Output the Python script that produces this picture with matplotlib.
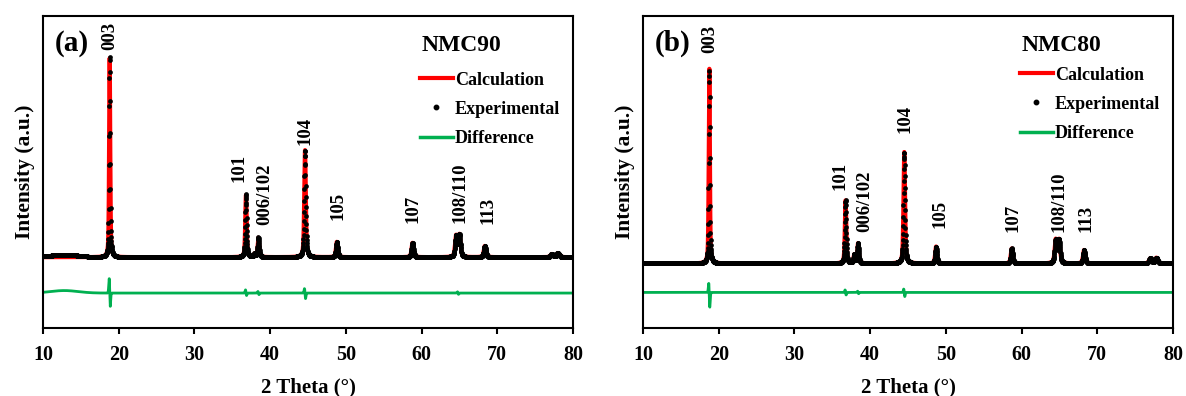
import matplotlib.pyplot as plt
from matplotlib.lines import Line2D
import numpy as np

plt.rcParams['font.family'] = ['Liberation Serif', 'DejaVu Serif']
plt.rcParams['font.weight'] = 'bold'
plt.rcParams['axes.labelweight'] = 'bold'

# Reflections used in the refinement: 2theta, height above background, FWHM
fwhm = [0.17, 0.22, 0.24, 0.24, 0.24, 0.27, 0.30, 0.32, 0.32, 0.32, 0.40, 0.40]

pos_a = [18.8, 36.8, 37.95, 38.45, 44.6, 48.8, 58.8, 64.55, 65.0, 68.35, 77.2, 78.0]
height_a = [63.8, 19.9, 1.0, 6.2, 34.3, 4.9, 4.6, 6.8, 7.1, 3.6, 1.0, 1.3]
bg_a = 22.7

pos_b = [18.75, 36.75, 37.9, 38.4, 44.5, 48.7, 58.7, 64.5, 64.95, 68.25, 77.0, 77.8]
height_b = [63.1, 20.3, 2.7, 6.4, 35.7, 5.4, 4.8, 7.5, 7.5, 4.3, 1.6, 1.8]
bg_b = 20.7

# Misfit (obs - calc) around the strongest reflections: centre, derivative part, peak part
resid_pos_a = [18.8, 36.8, 38.45, 44.6, 64.8]
resid_deriv_a = [4.5, 0.9, 0.5, 1.6, 0.4]
resid_peak_a = [0.3, 0.2, 0.0, -0.3, 0.0]
# broad amorphous hump at low angle, only in the measured data
hump_a = (12.8, 0.8, 1.8)
diff_level_a = 11.2

resid_pos_b = [18.75, 36.75, 38.4, 44.5]
resid_deriv_b = [3.8, 0.8, 0.4, 1.2]
resid_peak_b = [-1.5, 0.0, 0.0, -0.2]
hump_b = (12.8, 0.0, 1.8)
diff_level_b = 11.4

# Miller index labels: text, x, bottom of the text
labels = ['003', '101', '006/102', '104', '105', '107', '108/110', '113']
lab_x_a = [18.85, 35.9, 39.3, 44.6, 49.0, 58.9, 65.05, 68.8]
lab_y_a = [89.1, 46.8, 33.0, 58.7, 34.6, 33.6, 33.6, 33.3]
lab_x_b = [18.85, 36.0, 39.3, 44.6, 49.2, 58.8, 64.9, 68.5]
lab_y_b = [88.1, 44.2, 30.9, 62.5, 32.0, 30.9, 30.9, 30.7]

tt = np.arange(10, 80.001, 0.02)


def pseudo_voigt(x, c, h, w, eta=0.5):
    g = np.exp(-4 * np.log(2) * (x - c) ** 2 / w ** 2)
    l = 1 / (1 + 4 * (x - c) ** 2 / w ** 2)
    return h * (eta * l + (1 - eta) * g)


def profile(pos, height, bg):
    y = np.full_like(tt, bg)
    for c, h, w in zip(pos, height, fwhm):
        y += pseudo_voigt(tt, c, h, w)
    return y


def misfit(rpos, rder, rpk, hump, s=0.07):
    d = np.zeros_like(tt)
    for c, a, b in zip(rpos, rder, rpk):
        u = (tt - c) / s
        d += -a * u * np.exp(0.5 - u ** 2 / 2) + b * np.exp(-u ** 2 / 2)
    c, a, w = hump
    d += a * np.exp(-(tt - c) ** 2 / (2 * w ** 2))
    return d


fig = plt.figure(figsize=(11.86, 3.96), dpi=100)
ax_a = fig.add_axes([0.0363, 0.1717, 0.4469, 0.788])
ax_b = fig.add_axes([0.5422, 0.1717, 0.4469, 0.788])

panels = [
    (ax_a, '(a)', 'NMC90', pos_a, height_a, bg_a,
     (resid_pos_a, resid_deriv_a, resid_peak_a, hump_a), diff_level_a, lab_x_a, lab_y_a, 0.822),
    (ax_b, '(b)', 'NMC80', pos_b, height_b, bg_b,
     (resid_pos_b, resid_deriv_b, resid_peak_b, hump_b), diff_level_b, lab_x_b, lab_y_b, 0.838),
]

red = '#ff0000'
green = '#00b050'

for ax, tag, name, pos, height, bg, res, level, lx, ly, leg_y in panels:
    calc = profile(pos, height, bg)
    diff = misfit(*res)
    obs = calc + diff

    ax.plot(tt, calc, color=red, lw=3, zorder=2)
    ax.plot(tt, obs, ls='none', marker='o', ms=3.4, mec='none', color='black', zorder=3)
    ax.plot(tt, level + diff, color=green, lw=2, zorder=2)

    for txt, x, y in zip(labels, lx, ly):
        ax.text(x, y, txt, rotation=90, ha='center', va='bottom', fontsize=13.5)

    ax.text(0.022, 0.913, tag, transform=ax.transAxes, fontsize=21, va='center', ha='left')
    ax.text(0.715, 0.905, name, transform=ax.transAxes, fontsize=17, va='center', ha='left')

    handles = [Line2D([], [], color=red, lw=3),
               Line2D([], [], ls='none', marker='o', ms=3.2, color='black'),
               Line2D([], [], color=green, lw=2.5)]
    ax.legend(handles, ['Calculation', 'Experimental', 'Difference'],
              loc='upper left', bbox_to_anchor=(0.711, leg_y), frameon=False,
              fontsize=13, handlelength=1.83, handletextpad=0.1,
              labelspacing=0.68, borderpad=0, borderaxespad=0)

    ax.set_xlim(10, 80)
    ax.set_ylim(0, 100)
    ax.set_xticks(range(10, 81, 10))
    ax.set_yticks([])
    ax.tick_params(axis='x', direction='out', length=4, width=1.5, labelsize=14.5, pad=8)
    for sp in ax.spines.values():
        sp.set_linewidth(1.5)
    ax.set_xlabel('2 Theta (°)', fontsize=15, labelpad=9)
    ax.set_ylabel('Intensity (a.u.)', fontsize=15.5, labelpad=6)

fig.savefig('out.png', dpi=100)
